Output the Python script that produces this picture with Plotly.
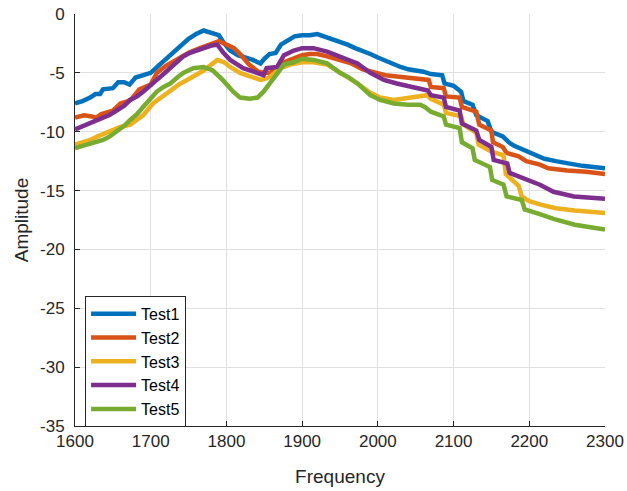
import plotly.graph_objects as go

# ---- data ----
names = ["Test1", "Test2", "Test3", "Test4", "Test5"]
colors = ["#0072BD", "#D95319", "#EDB120", "#7E2F8E", "#77AC30"]

f1 = [1600, 1610, 1620, 1627, 1633, 1637, 1650, 1657, 1665, 1672, 1680, 1692, 1700, 1710, 1720, 1730, 1740,
      1750, 1760, 1770, 1780, 1790, 1797, 1805, 1815, 1825, 1835, 1845, 1850, 1857, 1865, 1872, 1880, 1890,
      1900, 1910, 1920, 1930, 1940, 1950, 1960, 1970, 1980, 1990, 2000, 2010, 2020, 2030, 2040, 2050, 2060,
      2070, 2085, 2088, 2100, 2110, 2113, 2125, 2130, 2145, 2150, 2165, 2173, 2180, 2190, 2200, 2210, 2220,
      2235, 2250, 2270, 2300]
v1 = [-7.6, -7.4, -7.1, -6.8, -6.8, -6.4, -6.3, -5.8, -5.8, -6.0, -5.4, -5.2, -5.0, -4.4, -3.8, -3.2, -2.6,
      -2.1, -1.7, -1.4, -1.6, -1.8, -2.5, -3.1, -3.5, -3.7, -3.9, -4.2, -3.8, -3.4, -3.3, -2.6, -2.3, -1.9,
      -1.8, -1.8, -1.7, -1.9, -2.1, -2.4, -2.6, -2.9, -3.1, -3.4, -3.7, -4.0, -4.3, -4.5, -4.7, -4.8, -4.9,
      -5.1, -5.2, -5.9, -6.1, -6.6, -7.4, -7.7, -8.6, -9.1, -10.0, -10.4, -10.9, -11.2, -11.5, -11.7, -12.0, -12.3,
      -12.5, -12.7, -12.9, -13.1]

f2 = [1600, 1612, 1622, 1628, 1635, 1650, 1660, 1670, 1675, 1685, 1700, 1708, 1720, 1735, 1750, 1765, 1780,
      1790, 1800, 1810, 1818, 1830, 1842, 1850, 1858, 1865, 1876, 1890, 1900, 1910, 1920, 1933, 1950, 1965,
      1980, 2000, 2010, 2025, 2040, 2055, 2067, 2070, 2087, 2090, 2108, 2111, 2130, 2134, 2150, 2152, 2165,
      2170, 2186, 2196, 2214, 2225, 2250, 2275, 2300]
v2 = [-8.8, -8.6, -8.7, -8.8, -8.5, -8.2, -7.6, -7.4, -7.2, -6.4, -6.0, -5.0, -4.4, -3.8, -3.3, -2.9, -2.5,
      -2.3, -2.6, -2.9, -3.4, -4.3, -4.9, -5.0, -5.0, -4.6, -4.1, -3.7, -3.5, -3.4, -3.4, -3.6, -3.9, -4.2,
      -4.7, -5.1, -5.2, -5.3, -5.4, -5.5, -5.6, -6.2, -6.3, -7.0, -7.1, -7.9, -8.3, -9.4, -9.9, -10.9, -11.3,
      -11.8, -12.1, -12.5, -12.8, -13.1, -13.3, -13.4, -13.6]

f3 = [1600, 1610, 1620, 1630, 1646, 1660, 1673, 1683, 1690, 1703, 1715, 1726, 1737, 1748, 1760, 1770, 1780,
      1788, 1797, 1805, 1818, 1831, 1845, 1852, 1858, 1871, 1884, 1900, 1915, 1933, 1950, 1962, 1973, 1990,
      2003, 2021, 2040, 2056, 2065, 2070, 2087, 2090, 2110, 2113, 2130, 2133, 2150, 2166, 2169, 2186, 2190,
      2200, 2215, 2235, 2260, 2300]
v3 = [-11.1, -10.9, -10.7, -10.4, -10.0, -9.6, -9.4, -8.9, -8.6, -7.6, -7.0, -6.5, -6.0, -5.6, -5.2, -4.8, -4.3,
      -3.9, -4.1, -4.5, -5.0, -5.3, -5.6, -5.5, -5.3, -4.6, -4.3, -4.1, -4.1, -4.3, -5.0, -5.4, -5.9, -6.7,
      -7.1, -7.3, -7.1, -7.0, -6.9, -7.2, -7.7, -8.4, -8.7, -9.4, -10.1, -11.1, -11.7, -12.0, -13.6, -14.6, -15.5,
      -15.9, -16.2, -16.5, -16.7, -16.9]

f4 = [1600, 1610, 1620, 1630, 1637, 1645, 1655, 1665, 1673, 1682, 1690, 1700, 1708, 1717, 1726, 1735, 1743,
      1752, 1761, 1770, 1779, 1788, 1796, 1805, 1815, 1822, 1836, 1849, 1853, 1867, 1876, 1889, 1900, 1915,
      1933, 1950, 1965, 1973, 1990, 2008, 2025, 2044, 2060, 2066, 2070, 2087, 2090, 2108, 2111, 2130, 2134,
      2150, 2153, 2171, 2174, 2196, 2214, 2232, 2259, 2300]
v4 = [-9.8, -9.5, -9.2, -9.0, -8.8, -8.6, -8.2, -7.8, -7.3, -7.0, -6.6, -6.1, -5.6, -5.1, -4.6, -4.0, -3.6,
      -3.3, -3.1, -2.9, -2.7, -2.6, -3.3, -3.9, -4.3, -4.6, -4.9, -5.2, -4.6, -4.5, -3.5, -3.1, -2.9, -2.9,
      -3.2, -3.6, -4.0, -4.2, -5.0, -5.6, -5.9, -6.2, -6.4, -6.5, -6.9, -7.1, -7.9, -8.2, -9.3, -9.9, -10.7,
      -11.3, -12.4, -12.7, -13.5, -14.1, -14.5, -15.1, -15.5, -15.7]

f5 = [1600, 1610, 1620, 1630, 1637, 1646, 1655, 1665, 1673, 1682, 1690, 1700, 1708, 1717, 1726, 1735, 1743,
      1756, 1770, 1782, 1795, 1809, 1818, 1831, 1841, 1849, 1858, 1868, 1876, 1889, 1900, 1915, 1933, 1950,
      1962, 1973, 1990, 2003, 2021, 2040, 2056, 2062, 2070, 2087, 2090, 2108, 2111, 2125, 2128, 2148, 2151,
      2166, 2170, 2190, 2194, 2214, 2232, 2260, 2300]
v5 = [-11.4, -11.2, -11.0, -10.9, -10.7, -10.4, -10.0, -9.5, -9.0, -8.5, -7.9, -7.2, -6.6, -6.2, -5.9, -5.4, -5.0,
      -4.6, -4.5, -4.8, -5.6, -6.6, -7.1, -7.2, -7.1, -6.6, -5.8, -5.0, -4.3, -4.1, -3.8, -3.9, -4.2, -5.0,
      -5.4, -5.9, -6.9, -7.3, -7.6, -7.7, -7.7, -7.9, -8.3, -8.7, -9.4, -9.7, -10.9, -11.4, -12.4, -13.0, -14.1,
      -14.5, -15.5, -15.8, -16.6, -17.0, -17.4, -17.9, -18.3]

x_ticks = [1600, 1700, 1800, 1900, 2000, 2100, 2200, 2300]
y_ticks = [0, -5, -10, -15, -20, -25, -30, -35]
y_tick_labels = ["0", "-5", "-10", "-15", "-20", "-25", "-30", "-35"]

freqs = [f1, f2, f3, f4, f5]
vals = [v1, v2, v3, v4, v5]

FONT = "Liberation Sans, Arial, sans-serif"

fig = go.Figure()
for n, c, f, v in zip(names, colors, freqs, vals):
    fig.add_trace(go.Scatter(x=f, y=v, mode="lines", name=n,
                             line=dict(color=c, width=4.5)))

axis_common = dict(
    showline=True, linecolor="#262626", linewidth=1,
    ticks="inside", ticklen=5, tickcolor="#262626", tickwidth=1,
    showgrid=True, gridcolor="#e0e0e0", gridwidth=1,
    zeroline=False, mirror=False, automargin=False,
    ticklabeloverflow="allow",
    tickfont=dict(family=FONT, size=17, color="#262626"),
)

fig.update_xaxes(range=[1600, 2300], tickvals=x_ticks, ticklabelstandoff=0,
                 title=dict(text="Frequency", font=dict(family=FONT, size=19, color="#262626"), standoff=19),
                 **axis_common)
fig.update_yaxes(range=[-35, 0], tickvals=y_ticks, ticktext=y_tick_labels, ticklabelstandoff=6,
                 title=dict(text="Amplitude", font=dict(family=FONT, size=19, color="#262626"), standoff=6),
                 **axis_common)

fig.update_layout(
    width=627, height=491,
    margin=dict(l=75, r=22, t=14, b=65),
    paper_bgcolor="white", plot_bgcolor="white",
    showlegend=True,
    legend=dict(x=0.019, y=0.316, xanchor="left", yanchor="top",
                bgcolor="white", bordercolor="#262626", borderwidth=1,
                font=dict(family=FONT, size=16, color="#000000"),
                itemwidth=45, tracegroupgap=0),
)

# remove the default page margin so the figure sits at the window's top-left corner
fig.write_html("out.html", config={"displayModeBar": False},
               post_script="document.body.style.margin='0';")
